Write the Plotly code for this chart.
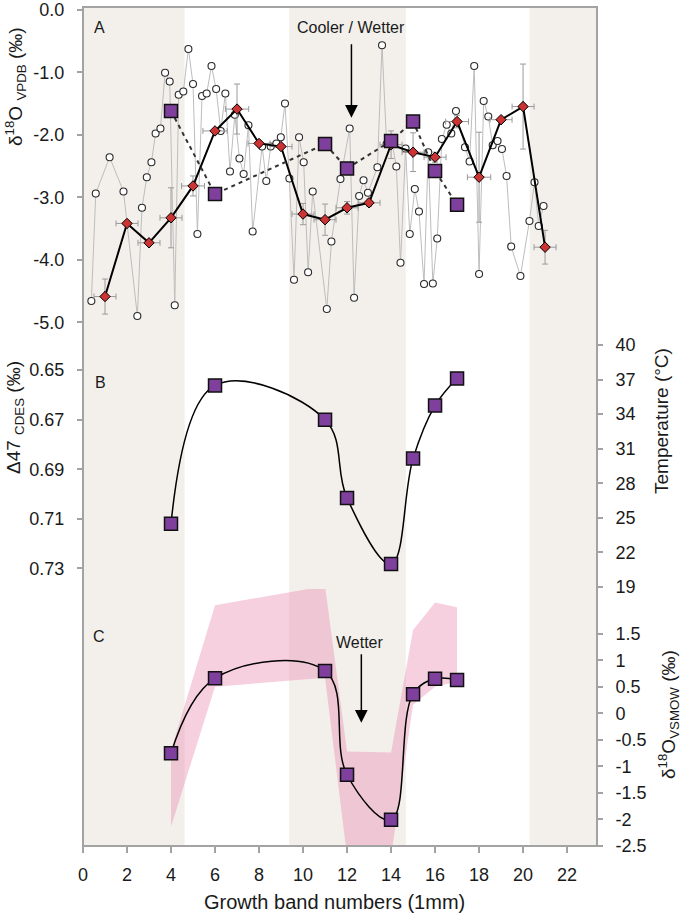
import plotly.graph_objects as go

# ---------------- data ----------------
# Panel A: high-resolution d18O (open circles, grey line)
hr_x = [0.38, 0.58, 1.21, 1.84, 2.47, 2.68, 2.90, 3.11, 3.30, 3.52, 3.73, 3.94, 4.17, 4.35, 4.56,
        4.79, 5.00, 5.20, 5.41, 5.62, 5.84, 6.05, 6.26, 6.47, 6.68, 6.90, 7.11, 7.30, 7.52, 7.71,
        8.14, 8.33, 8.53, 8.79, 8.99, 9.18, 9.38, 9.59, 9.82, 10.03, 10.23, 10.44, 11.08, 11.29,
        11.70, 12.12, 12.32, 12.55, 12.75, 12.95, 13.38, 13.59, 13.80, 14.02, 14.24, 14.43, 14.66,
        14.85, 15.08, 15.27, 15.50, 15.69, 15.90, 16.10, 16.31, 16.53, 16.74, 16.95, 17.36, 17.57,
        17.78, 18.00, 18.21, 18.42, 18.62, 18.84, 19.04, 19.25, 19.46, 19.88, 20.29, 20.52, 20.71, 20.93]
hr_y = [-4.66, -2.94, -2.36, -2.91, -4.90, -3.17, -2.68, -2.44, -1.98, -1.90, -1.01, -1.15, -4.73, -1.36, -1.31,
        -0.63, -1.19, -3.59, -1.38, -1.34, -0.90, -1.27, -1.94, -1.34, -2.59, -1.68, -2.38, -2.63, -1.85, -3.55,
        -2.19, -2.74, -2.19, -2.14, -2.04, -1.50, -2.70, -4.32, -2.04, -2.44, -4.20, -2.91, -4.79, -3.71,
        -2.71, -1.90, -4.61, -2.98, -2.73, -2.93, -2.52, -0.57, -2.15, -2.08, -2.51, -4.05, -2.22,
        -3.59, -2.87, -3.23, -4.39, -2.28, -4.38, -3.66, -2.07, -1.84, -1.98, -1.62, -2.20, -2.43,
        -0.90, -4.23, -1.46, -1.71, -2.17, -2.10, -2.23, -2.66, -3.79, -4.26, -3.38, -2.76, -3.46, -3.14]

# Panel A: growth-band mean d18O (red diamonds) with errors
band_x = [1, 2, 3, 4, 5, 6, 7, 8, 9, 10, 11, 12, 13, 14, 15, 16, 17, 18, 19, 20, 21]
band_y = [-4.59, -3.42, -3.73, -3.33, -2.82, -1.94, -1.59, -2.14, -2.19, -3.27, -3.36, -3.17, -3.09,
          -2.16, -2.28, -2.36, -1.79, -2.68, -1.76, -1.55, -3.80]
band_xerr = [0.5, 0.5, 0.5, 0.5, 0.52, 0.55, 0.53, 0.5, 0.5, 0.5, 0.5, 0.5, 0.5, 0.5, 0.5, 0.5,
             0.52, 0.53, 0.5, 0.5, 0.5]
band_yerr = [0.28, 0, 0, 0.48, 0.16, 0, 0.40, 0, 0, 0.17, 0.25, 0.10, 0.06, 0.22, 0.31, 0.08,
             0.10, 0.72, 0, 0.68, 0.27]

# Clumped-isotope samples (purple squares)
cl_x = [4, 6, 11, 12, 14, 15, 16, 17]
cl_d18o_carb = [-1.62, -2.95, -2.15, -2.54, -2.10, -1.79, -2.58, -3.12]
cl_d47 = [0.712, 0.6562, 0.670, 0.7016, 0.7282, 0.6857, 0.6643, 0.6534]
cl_d18o_water = [-0.755, 0.66, 0.80, -1.16, -2.01, 0.36, 0.65, 0.63]

# Panel C uncertainty envelope of water d18O
env_upper = [-0.70, 2.04, 2.40, -0.72, -0.74, 1.57, 2.09, 2.00]
env_lower = [-2.14, 0.50, 0.67, -2.70, -2.70, 0.16, 0.50, 0.60]

# shaded growth periods (x ranges)
band_starts = [0.0, 9.37, 20.30]
band_ends = [4.62, 14.67, 23.4]

# tick labels
x_ticks = [0, 2, 4, 6, 8, 10, 12, 14, 16, 18, 20, 22]
a_tickvals = [0, -1, -2, -3, -4, -5]
a_ticktext = ["0.0", "-1.0", "-2.0", "-3.0", "-4.0", "-5.0"]
b_tickvals = [0.65, 0.67, 0.69, 0.71, 0.73]
b_ticktext = ["0.65", "0.67", "0.69", "0.71", "0.73"]
t_tickvals = [19, 22, 25, 28, 31, 34, 37, 40]
c_tickvals = [1.5, 1, 0.5, 0, -0.5, -1, -1.5, -2, -2.5]
c_ticktext = ["1.5", "1", "0.5", "0", "-0.5", "-1", "-1.5", "-2", "-2.5"]

# ---------------- style / geometry ----------------
W, H = 685, 914
ML, MR, MT, MB = 83, 88, 7, 68
PW, PH = W - ML - MR, H - MT - MB
FONT = "Liberation Sans, Arial, sans-serif"
TXT = "#1a1a1a"
AX = "#a3a3a3"
PURPLE = "#7e3f9d"
RED = "#cc3333"


def px(x):
    return (x - ML) / PW


def py(y):
    return (H - MB - y) / PH


dom_a = [py(335), 1]
dom_b = [py(589), py(335)]
dom_c = [0, py(589)]

fig = go.Figure()

# envelope (panel C)
fig.add_trace(go.Scatter(
    x=cl_x + cl_x[::-1], y=env_upper + env_lower[::-1],
    xaxis="x", yaxis="y3", fill="toself", mode="lines",
    line=dict(width=0), fillcolor="rgba(232,120,165,0.35)", hoverinfo="skip"))

# panel A grey high-res series
fig.add_trace(go.Scatter(
    x=hr_x, y=hr_y, xaxis="x", yaxis="y", mode="lines+markers",
    line=dict(color="#bdbdbd", width=1),
    marker=dict(symbol="circle", size=7, color="white", line=dict(color="#2a2a2a", width=1.1))))

# panel A band means
fig.add_trace(go.Scatter(
    x=band_x, y=band_y, xaxis="x", yaxis="y", mode="lines+markers",
    line=dict(color="black", width=2),
    marker=dict(symbol="diamond", size=8, color=RED, line=dict(color="black", width=1)),
    error_x=dict(type="data", array=band_xerr, color="#9a9a9a", thickness=1, width=3),
    error_y=dict(type="data", array=band_yerr, color="#9a9a9a", thickness=1, width=3)))

# panel A clumped samples
fig.add_trace(go.Scatter(
    x=cl_x, y=cl_d18o_carb, xaxis="x", yaxis="y", mode="lines+markers",
    line=dict(color="#333333", width=2, dash="4px,4px"),
    marker=dict(symbol="square", size=13, color=PURPLE, line=dict(color="#111111", width=1.5))))

# panel B
fig.add_trace(go.Scatter(
    x=cl_x, y=cl_d47, xaxis="x", yaxis="y2", mode="lines+markers",
    line=dict(color="black", width=1.5, shape="spline", smoothing=1.1),
    marker=dict(symbol="square", size=13, color=PURPLE, line=dict(color="#111111", width=1.5))))

# empty trace so the temperature axis (panel B, right) is drawn
fig.add_trace(go.Scatter(x=[], y=[], xaxis="x", yaxis="y4", mode="markers", hoverinfo="skip"))

# panel C
fig.add_trace(go.Scatter(
    x=cl_x, y=cl_d18o_water, xaxis="x", yaxis="y3", mode="lines+markers",
    line=dict(color="black", width=1.5, shape="spline", smoothing=1.1),
    marker=dict(symbol="square", size=13, color=PURPLE, line=dict(color="#111111", width=1.5))))

shapes = []
for s, e in zip(band_starts, band_ends):
    shapes.append(dict(type="rect", xref="x", yref="paper", x0=s, x1=e, y0=0, y1=1,
                       fillcolor="#f3f0eb", line=dict(width=0), layer="below"))
shapes.append(dict(type="rect", xref="paper", yref="paper", x0=0, x1=1, y0=0, y1=1,
                   line=dict(color=AX, width=2), fillcolor="rgba(0,0,0,0)", layer="above"))

tickfont = dict(family=FONT, size=18, color=TXT)
common = dict(showgrid=False, zeroline=False, showline=False, ticks="outside",
              ticklen=5, tickwidth=1.5, tickcolor=AX, tickfont=tickfont,
              ticklabeloverflow="allow", automargin=False)


def ann(x, y, text, size=16, angle=0):
    return dict(x=px(x), y=py(y), xref="paper", yref="paper", text=text, showarrow=False,
                textangle=angle, font=dict(family=FONT, size=size, color=TXT),
                xanchor="center", yanchor="middle")


annotations = [
    ann(99, 28, "A", 16), ann(100, 382, "B", 16), ann(99, 636, "C", 16),
    ann(351, 28, "Cooler / Wetter", 16),
    ann(360, 642, "Wetter", 16),
    ann(15, 87, "δ<sup>18</sup>O <sub>VPDB</sub> (‰)", 19, -90),
    ann(15, 418, "Δ47 <sub>CDES</sub> (‰)", 19, -90),
    ann(662, 421, "Temperature (°C)", 19, -90),
    ann(668, 715, "δ<sup>18</sup>O<sub>VSMOW</sub> (‰)", 19, -90),
    ann(334, 902, "Growth band numbers (1mm)", 20),
    dict(x=12.2, y=-1.73, xref="x", yref="y", ax=0, ay=-75, axref="pixel", ayref="pixel",
         text="", showarrow=True, arrowhead=2, arrowsize=1.7, arrowwidth=1.5, arrowcolor="black"),
    dict(x=12.65, y=-0.18, xref="x", yref="y3", ax=0, ay=-70, axref="pixel", ayref="pixel",
         text="", showarrow=True, arrowhead=2, arrowsize=1.7, arrowwidth=1.5, arrowcolor="black"),
]

fig.update_layout(
    width=W, height=H, margin=dict(l=ML, r=MR, t=MT, b=MB, pad=0, autoexpand=False),
    paper_bgcolor="white", plot_bgcolor="rgba(0,0,0,0)", showlegend=False,
    font=dict(family=FONT, color=TXT),
    xaxis=dict(domain=[0, 1], range=[0, 23.36], anchor="y3", tickvals=x_ticks,
               ticklabelstandoff=6, **{**common, "ticklen": 6}),
    yaxis=dict(domain=dom_a, range=[-5.205, 0.043], anchor="x", tickvals=a_tickvals,
               ticktext=a_ticktext, ticklabelstandoff=9, **common),
    yaxis2=dict(domain=dom_b, range=[0.73828, 0.63586], anchor="x", tickvals=b_tickvals,
                ticktext=b_ticktext, ticklabelstandoff=9, **common),
    yaxis4=dict(overlaying="y2", side="right", range=[18.827, 40.867], anchor="x",
                tickvals=t_tickvals, ticklabelstandoff=9, **common),
    yaxis3=dict(domain=dom_c, side="right", range=[-2.504, 2.345], anchor="x",
                tickvals=c_tickvals, ticktext=c_ticktext, ticklabelstandoff=9, **common),
    shapes=shapes, annotations=annotations,
)

fig.write_html("out.html", config={"displayModeBar": False},
               post_script="document.body.style.margin='0';")
